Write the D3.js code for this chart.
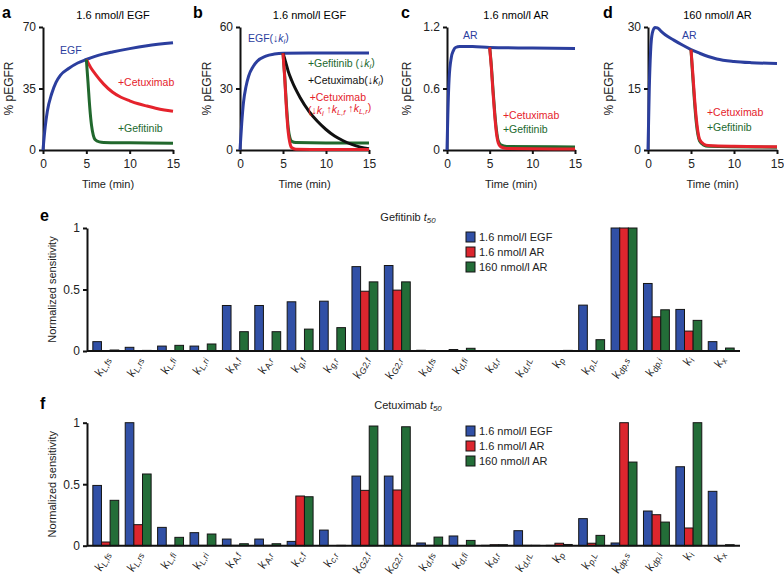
<!DOCTYPE html>
<html>
<meta charset="utf-8">
<head>
<script src="https://d3js.org/d3.v7.min.js"></script>
<style>
  body { margin: 0; background: #fff; }
  svg { font-family: "Liberation Sans", Arial, sans-serif; }
</style>
</head>
<body>
<div id="chart"></div>
<script>

var aEGF = [[0,0],[0.25,13],[0.5,22],[1,32],[1.5,38.5],[2,42.5],[3,46.5],[4,49.5],[5,51.5],[6,53.3],[7,54.7],[8,55.8],[10,57.7],[12,59.3],[15,61]];
var aCet = [[5,51.5],[5.5,47],[6,43.5],[7,37.5],[8,33],[9,30],[10,28],[11,26.3],[12,25],[13,23.8],[14,22.8],[15,22]];
var aGef = [[5,51.5],[5.2,38],[5.4,24],[5.6,14],[5.8,8.5],[6,6],[6.5,4.6],[7,4.3],[10,4.1],[15,3.8]];

var bEGF = [[0,0],[0.2,13],[0.4,23],[0.7,31],[1,36],[1.5,40.5],[2,43.3],[3,45.8],[4,46.8],[5,47.2],[8,47.3],[15,47.3]];
var bGef = [[5,47.2],[5.2,36],[5.4,22],[5.6,11],[5.8,6],[6,4.3],[6.5,3.6],[10,3.4],[15,3.4]];
var bCet = [[5,47.2],[5.3,43],[5.6,38.5],[6,34],[7,25.5],[8,19],[9,14],[10,10],[11,6.8],[12,4.5],[13,2.7],[14,1.4],[15,0.6]];
var bCetFast = [[5,47.2],[5.2,35],[5.4,20],[5.6,9],[5.8,3.5],[6,1.2],[6.5,0.4],[10,0.2],[15,0.2]];

var cAR = [[0,0],[0.1,0.35],[0.25,0.7],[0.5,0.9],[0.75,0.97],[1,1.0],[1.5,1.01],[3,1.01],[5,1.0],[10,0.995],[15,0.99]];
var cGef = [[5,1.0],[5.2,0.82],[5.4,0.58],[5.6,0.36],[5.8,0.19],[6,0.09],[6.3,0.05],[7,0.035],[15,0.03]];
var cCet = [[5,1.0],[5.2,0.8],[5.4,0.55],[5.6,0.33],[5.8,0.16],[6,0.07],[6.3,0.03],[7,0.015],[15,0.01]];

var dAR = [[0,0],[0.15,15],[0.3,24],[0.5,28.5],[0.8,29.9],[1.1,29.8],[1.5,29],[2,28.1],[3,26.8],[4,25.6],[5,24.5],[6,23.6],[7,22.8],[8,22.2],[10,21.6],[12,21.3],[15,21.1]];
var dGef = [[5,24.5],[5.2,18],[5.4,12],[5.6,7],[5.8,3.8],[6,2.2],[6.5,1.2],[7,0.9],[15,0.7]];
var dCet = [[5,24.5],[5.2,19],[5.4,13],[5.6,8],[5.8,4.5],[6,2.6],[6.5,1.4],[7,1.1],[10,0.9],[15,0.8]];

var timeTicks = [0, 5, 10, 15];

// ---- normalized sensitivities (panels e, f); parameter subscripts
var paramsE = ["L,fs","L,rs","L,fi","L,ri","A,f","A,r","g,f","g,r","G2,f","G2,r","d,fs","d,fi","d,r","d,rL","p","p,L","dp,s","dp,i","i","x"];
var paramsF = ["L,fs","L,rs","L,fi","L,ri","A,f","A,r","c,f","c,r","G2,f","G2,r","d,fs","d,fi","d,r","d,rL","p","p,L","dp,s","dp,i","i","x"];

var gefEGF   = [0.076,0.03,0.04,0.04,0.37,0.37,0.40,0.405,0.686,0.695,0.006,0.012,0,0,0,0.373,1,0.549,0.338,0.076];
var gefAR16  = [0,0,0,0,0,0,0,0,0.486,0.495,0,0,0,0,0,0,1,0.278,0.162,0];
var gefAR160 = [0.008,0.005,0.046,0.057,0.157,0.157,0.178,0.19,0.562,0.562,0,0.022,0.004,0,0.005,0.092,1,0.335,0.249,0.024];

var cetEGF   = [0.49,1.0,0.149,0.106,0.054,0.054,0.035,0.127,0.566,0.566,0.022,0.079,0.003,0.122,0.003,0.22,0.022,0.282,0.642,0.442];
var cetAR16  = [0.03,0.171,0.003,0.003,0.003,0.003,0.404,0,0.45,0.453,0.003,0,0.008,0.003,0.02,0.02,1.0,0.252,0.144,0];
var cetAR160 = [0.369,0.583,0.068,0.095,0.016,0.016,0.398,0.003,0.973,0.967,0.07,0.043,0.008,0.003,0.01,0.084,0.68,0.192,1.0,0.008];

var seriesNames = ["1.6 nmol/l EGF", "1.6 nmol/l AR", "160 nmol/l AR"];
var barColors = ["#3150a6", "#dc262e", "#236d38"];

var blue = "#2b3e9e", red = "#e5232c", green = "#21682d", black = "#111";

var svg = d3.select("#chart").append("svg")
    .attr("width", 784)
    .attr("height", 576);

// text with italic parts and subscripts: parts = [[text, "n"|"i"|"s"], ...]
function rich(t, parts) {
  var down = false;
  parts.forEach(function(p) {
    var s = t.append("tspan").text(p[0]);
    if (p[1] == "i" || p[1] == "s") s.style("font-style", "italic");
    if (p[1] == "s") {
      s.style("font-size", "0.72em");
      if (!down) { s.attr("dy", "0.3em"); down = true; }
    } else if (down) {
      s.attr("dy", "-0.3em"); down = false;
    }
  });
}

var linePanels = [
  {letter: "a", lx: 2, title: "1.6 nmol/l EGF", left: 43, right: 173, ymax: 70, ticks: [0, 35, 70], ylab: 13,
   series: [[aEGF, blue], [aCet, red], [aGef, green]],
   notes: [[1.96, 54.6, blue, [["EGF","n"]]],
           [8.65, 36.4, red, [["+Cetuximab","n"]]],
           [8.65, 10.2, green, [["+Gefitinib","n"]]]]},
  {letter: "b", lx: 193, title: "1.6 nmol/l EGF", left: 240, right: 369, ymax: 60, ticks: [0, 30, 60], ylab: 211,
   series: [[bEGF, blue], [bGef, green], [bCet, black], [bCetFast, red]],
   notes: [[0.93, 52.7, blue, [["EGF(","n"],["\u2193","n"],["k","i"],["i","s"],[")","n"]]],
           [7.9, 40.5, green, [["+Gefitinib (","n"],["\u2193","n"],["k","i"],["i","s"],[")","n"]]],
           [7.9, 32.2, black, [["+Cetuximab(","n"],["\u2193","n"],["k","i"],["i","s"],[")","n"]]],
           [8.1, 23.9, red, [["+Cetuximab","n"]]],
           [7.9, 17.6, red, [["(\u2193","n"],["k","i"],["i","s"],["  \u2191","n"],["k","i"],["L,f","s"],[" \u2191","n"],["k","i"],["L,r","s"],[")","n"]]]]},
  {letter: "c", lx: 401, title: "1.6 nmol/l AR", left: 447, right: 575, ymax: 1.2, ticks: [0, 0.6, 1.2], ylab: 411,
   series: [[cAR, blue], [cGef, green], [cCet, red]],
   notes: [[1.88, 1.083, blue, [["AR","n"]]],
           [6.56, 0.302, red, [["+Cetuximab","n"]]],
           [6.56, 0.166, green, [["+Gefitinib","n"]]]]},
  {letter: "d", lx: 603, title: "160 nmol/l AR", left: 648, right: 777, ymax: 30, ticks: [0, 15, 30], ylab: 613,
   series: [[dAR, blue], [dGef, green], [dCet, red]],
   notes: [[3.95, 27.1, blue, [["AR","n"]]],
           [6.86, 8.3, red, [["+Cetuximab","n"]]],
           [6.86, 4.6, green, [["+Gefitinib","n"]]]]}
];

var top0 = 27, bottom0 = 150;

linePanels.forEach(function(p) {
  var x = d3.scaleLinear().domain([0, 15]).range([p.left, p.right]);
  var y = d3.scaleLinear().domain([0, p.ymax]).range([bottom0, top0]);

  var gx = svg.append("g")
      .attr("transform", "translate(0," + bottom0 + ")")
      .call(d3.axisBottom(x).tickValues(timeTicks).tickSize(4).tickSizeOuter(0).tickPadding(5));
  var gy = svg.append("g")
      .attr("transform", "translate(" + p.left + ",0)")
      .call(d3.axisLeft(y).tickValues(p.ticks).tickSize(4).tickSizeOuter(0).tickPadding(3)
        .tickFormat(function(d) { return d; }));
  [gx, gy].forEach(function(g) {
    g.selectAll("path, line").attr("stroke", "#111").attr("stroke-width", 2);
    g.selectAll("text").style("font-size", "12px").attr("fill", "#222");
  });

  var line = d3.line()
      .x(function(d) { return x(d[0]); })
      .y(function(d) { return y(d[1]); })
      .curve(d3.curveMonotoneX);

  p.series.forEach(function(s) {
    svg.append("path")
      .datum(s[0])
      .attr("d", line)
      .attr("fill", "none")
      .attr("stroke", s[1])
      .attr("stroke-width", 3)
      .attr("stroke-linejoin", "round");
  });

  p.notes.forEach(function(n) {
    var t = svg.append("text")
      .attr("x", x(n[0]))
      .attr("y", y(n[1]))
      .attr("fill", n[2])
      .style("font-size", "10.5px");
    rich(t, n[3]);
  });

  svg.append("text")
    .attr("x", (p.left + p.right) / 2 + 5)
    .attr("y", 19)
    .attr("text-anchor", "middle")
    .style("font-size", "11px")
    .text(p.title);

  svg.append("text")
    .attr("x", p.lx)
    .attr("y", 18)
    .style("font-size", "16px")
    .style("font-weight", "bold")
    .text(p.letter);

  svg.append("text")
    .attr("transform", "translate(" + p.ylab + "," + ((top0 + bottom0) / 2) + ") rotate(-90)")
    .attr("text-anchor", "middle")
    .style("font-size", "12px")
    .attr("fill", "#222")
    .text("% pEGFR");

  svg.append("text")
    .attr("x", (p.left + p.right) / 2)
    .attr("y", 188)
    .attr("text-anchor", "middle")
    .style("font-size", "11px")
    .attr("fill", "#222")
    .text("Time (min)");
});

// ---- bar panels
var barPanels = [
  {letter: "e", drug: "Gefitinib ", top: 228, base: 351, params: paramsE, data: [gefEGF, gefAR16, gefAR160], titleY: 221, legY: 237},
  {letter: "f", drug: "Cetuximab ", top: 422.7, base: 545.7, params: paramsF, data: [cetEGF, cetAR16, cetAR160], titleY: 409, legY: 431}
];

barPanels.forEach(function(p) {
  var x0 = d3.scaleBand().domain(d3.range(p.params.length)).range([87, 740])
      .paddingInner(0.2).paddingOuter(0.18);
  var x1 = d3.scaleBand().domain([0, 1, 2]).range([0, x0.bandwidth()]);
  var y = d3.scaleLinear().domain([0, 1]).range([p.base, p.top]);

  var groups = svg.append("g").selectAll("g")
    .data(p.params)
    .enter().append("g")
      .attr("transform", function(d, i) { return "translate(" + x0(i) + ",0)"; });

  groups.selectAll("rect")
    .data(function(d, i) { return p.data.map(function(s, k) { return {k: k, v: s[i]}; }); })
    .enter().append("rect")
      .filter(function(d) { return d.v > 0; })
      .attr("x", function(d) { return x1(d.k); })
      .attr("width", x1.bandwidth())
      .attr("y", function(d) { return y(d.v); })
      .attr("height", function(d) { return p.base - y(d.v); })
      .attr("fill", function(d) { return barColors[d.k]; })
      .attr("stroke", "#151515")
      .attr("stroke-width", 1);

  // axes
  svg.append("line")
    .attr("x1", 87).attr("x2", 740)
    .attr("y1", p.base).attr("y2", p.base)
    .attr("stroke", "#111").attr("stroke-width", 2);
  var gy = svg.append("g")
      .attr("transform", "translate(87,0)")
      .call(d3.axisLeft(y).tickValues([0, 0.5, 1]).tickSize(4).tickSizeOuter(0).tickPadding(3)
        .tickFormat(function(d) { return d; }));
  gy.selectAll("path, line").attr("stroke", "#111").attr("stroke-width", 2);
  gy.selectAll("text").style("font-size", "12px").attr("fill", "#222");

  // parameter labels, slanted
  groups.append("text")
      .attr("transform", "translate(" + (x0.bandwidth() / 2 + 4) + "," + (p.base + 8) + ") rotate(-65)")
      .attr("text-anchor", "end")
      .attr("fill", "#222")
      .style("font-size", "12px")
      .each(function(d) { rich(d3.select(this), [["k", "i"], [d, "s"]]); });

  // title
  var t = svg.append("text")
    .attr("x", 408)
    .attr("y", p.titleY)
    .attr("text-anchor", "middle")
    .attr("fill", "#222")
    .style("font-size", "11px");
  rich(t, [[p.drug, "n"], ["t", "i"], ["50", "s"]]);

  svg.append("text")
    .attr("x", 40)
    .attr("y", p.titleY)
    .style("font-size", "16px")
    .style("font-weight", "bold")
    .text(p.letter);

  svg.append("text")
    .attr("transform", "translate(56," + ((p.top + p.base) / 2) + ") rotate(-90)")
    .attr("text-anchor", "middle")
    .attr("fill", "#222")
    .style("font-size", "11px")
    .text("Normalized sensitivity");

  // legend
  var leg = svg.append("g").selectAll("g")
    .data(seriesNames)
    .enter().append("g")
      .attr("transform", function(d, i) { return "translate(466," + (p.legY + i * 15) + ")"; });
  leg.append("rect")
    .attr("x", 0).attr("y", -5)
    .attr("width", 9).attr("height", 10)
    .attr("fill", function(d, i) { return barColors[i]; })
    .attr("stroke", "#151515");
  leg.append("text")
    .attr("x", 13)
    .attr("y", 0)
    .attr("dy", "0.35em")
    .attr("fill", "#222")
    .style("font-size", "11px")
    .text(function(d) { return d; });
});

</script>
</body>
</html>
